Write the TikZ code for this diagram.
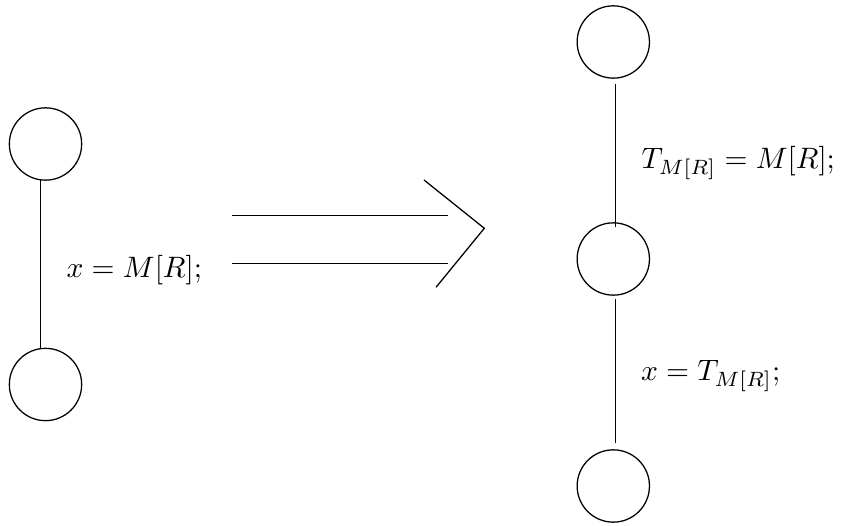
\documentclass[tikz,border=0pt]{standalone}
\usetikzlibrary{calc}
\begin{document}
\begin{tikzpicture}[x=0.011064cm,y=-0.011064cm,
  vert/.style={circle,draw,minimum size=0.8cm,inner sep=0pt},
  lbl/.style={anchor=base west,inner sep=0pt,scale=0.93,transform shape},
  edge/.style={draw,line width=0.4pt}]
\useasboundingbox (0,0) rectangle (841,526);
% left graph
\node[vert] (l1) at (45.5,144) {};
\node[vert] (l2) at (45.5,384.5) {};
\draw[edge] (l1.-98.7) -- (l2.98.7);
\node[lbl] (la) at (66,277.4) {$x = M[R];$};
% double arrow
\coordinate (a1) at (232,215.7);
\coordinate (a2) at (447.7,215.7);
\coordinate (b1) at (232,263.3);
\coordinate (b2) at (447.7,263.3);
\coordinate (c1) at (424,180);
\coordinate (ct) at (484.3,228.3);
\coordinate (c2) at (436,287.3);
\draw[edge] (a1) -- (a2);
\draw[edge] (b1) -- (b2);
\draw[edge] (c1) -- (ct) -- (c2);
% right graph
\node[vert] (r1) at (613.3,42) {};
\node[vert] (r2) at (613.3,259) {};
\node[vert] (r3) at (613.3,486) {};
\draw[edge] ($(r1.south)+(2.4,5.7)$) -- ($(r2.north)+(2.4,4.4)$);
\draw[edge] ($(r2.south)+(2.4,3.6)$) -- ($(r3.north)+(2.4,-6)$);
\node[lbl] (ra) at (641,169) {$T_{M[R]} = M[R];$};
\node[lbl] (rb) at (640.5,380.7) {$x = T_{M[R]};$};
\end{tikzpicture}
\end{document}
